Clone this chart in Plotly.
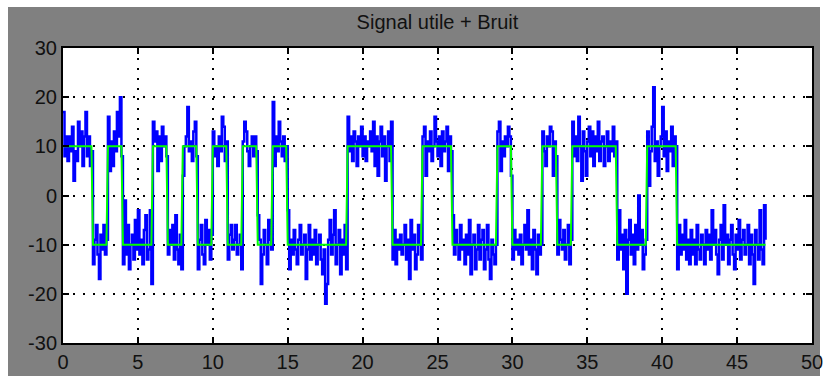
import numpy as np
import plotly.graph_objects as go

# Transmitted symbols, one per time unit (+1 / -1)
bits = [1, 1, -1, 1, -1, -1, 1, -1, 1, -1,
        1, -1, 1, -1, 1, -1, -1, -1, -1, 1,
        1, 1, -1, -1, 1, 1, -1, -1, -1, 1,
        -1, -1, 1, -1, 1, 1, 1, -1, -1, 1,
        1, -1, -1, -1, -1, -1, -1]
amplitude = 10
samples_per_bit = 10
sample_step = 0.1

# Received signal (useful signal + noise), 10 samples per symbol
signal_noisy = [
    17, 8, 12, 7, 12, 9, 14, 3, 9, 7,
    15, 10, 13, 6, 12, 17, 8, 12, 6, 9,
    -14, -9, -6, -12, -17, -8, -11, -6, -12, -9,
    16, 5, 11, 6, 13, 9, 17, 12, 20, 8,
    -14, -1, -12, -6, -15, -10, -8, -13, -5, -11,
    -3, -12, -9, -14, -7, -4, -13, -11, -3, -18,
    15, 11, 13, 5, 12, 7, 14, 10, 12, 8,
    -12, -7, -10, -6, -13, -4, -11, -14, -8, -15,
    4, 10, 12, 18, 9, 11, 7, 13, 15, 8,
    -15, -9, -6, -12, -14, -5, -10, -7, -13, -8,
    13, 8, 10, 6, 12, 9, 16, 14, 7, 11,
    -13, -8, -6, -11, -9, -6, -12, -10, -8, -15,
    11, 15, 13, 9, 6, 10, 12, 8, 12, 9,
    -4, -9, -18, -12, -7, -10, -14, -5, -9, -11,
    19, 6, 12, 9, 15, 11, 8, 12, 7, 10,
    -3, -15, -9, -12, -7, -11, -14, -9, -6, -12,
    -10, -8, -17, -11, -6, -13, -9, -12, -7, -14,
    -10, -8, -13, -16, -11, -22, -18, -9, -5, -12,
    -8, -3, -14, -10, -7, -16, -9, -12, -6, -15,
    16, 9, 12, 7, 13, 11, 6, 12, 10, 14,
    8, 12, 7, 11, 10, 13, 9, 15, 6, 12,
    4, 11, 14, 8, 12, 3, 10, 13, 7, 15,
    -13, -7, -14, -9, -11, -8, -12, -10, -6, -13,
    -9, -17, -5, -11, -8, -15, -12, -6, -10, -13,
    12, 14, 4, 11, 9, 13, 7, 10, 16, 11,
    8, 12, 6, 13, 9, 11, 14, 5, 12, 9,
    -4, -12, -7, -10, -13, -6, -11, -9, -14, -8,
    -12, -5, -16, -10, -8, -15, -11, -6, -13, -9,
    -7, -15, -11, -6, -13, -17, -9, -12, -14, -10,
    13, 15, 5, 11, 8, 12, 10, 14, 12, 4,
    -13, -7, -11, -9, -12, -8, -14, -10, -6, -11,
    -3, -12, -9, -15, -7, -11, -16, -8, -12, -10,
    13, 9, 6, 12, 10, 14, 13, 4, 11, 8,
    -12, -5, -9, -11, -7, -13, -10, -6, -14, -9,
    15, 8, 12, 7, 16, 10, 3, 13, 9, 4,
    11, 14, 8, 13, 6, 12, 9, 15, 7, 11,
    12, 6, 10, 13, 7, 11, 9, 14, 8, 11,
    -13, -3, -11, -8, -15, -7, -20, -9, -5, -12,
    -8, -14, -6, -11, 0, -10, -7, -15, -12, -9,
    13, 2, 9, 14, 22, 7, 11, 4, 10, 12,
    18, 8, 13, 5, 11, 9, 14, 6, 12, 10,
    -15, -6, -12, -8, -11, -5, -13, -9, -14, -7,
    -12, -9, -14, -6, -11, -13, -8, -10, -14, -7,
    -11, -8, -13, -3, -10, -7, -12, -16, -9, -6,
    -13, -2, -10, -8, -14, -9, -6, -12, -15, -8,
    -11, -5, -13, -9, -7, -12, -10, -6, -14, -8,
    -12, -18, -7, -10, -13, -3, -11, -14, -2, -9,
]

x_ticks = [0, 5, 10, 15, 20, 25, 30, 35, 40, 45, 50]
y_ticks = [-30, -20, -10, 0, 10, 20, 30]
title_text = "Signal utile + Bruit"

n = len(bits) * samples_per_bit
t = np.arange(n) * sample_step
clean = np.repeat(np.array(bits) * amplitude, samples_per_bit)

fig = go.Figure()
fig.add_trace(go.Scatter(x=t, y=signal_noisy, mode="lines",
                         line=dict(color="#0000FF", width=2.5, shape="hv"),
                         showlegend=False, hoverinfo="skip"))
fig.add_trace(go.Scatter(x=t, y=clean, mode="lines",
                         line=dict(color="#00FF00", width=2),
                         showlegend=False, hoverinfo="skip"))

font_family = "Liberation Sans, Arial, sans-serif"
axis_common = dict(
    showgrid=True, gridcolor="black", gridwidth=1.5, griddash="2px,8px",
    zeroline=False, showline=True, linecolor="black", linewidth=2,
    mirror="allticks", ticks="inside", ticklen=6, tickwidth=1.5,
    tickcolor="black", automargin=False,
    tickfont=dict(family=font_family, size=20, color="#111111"),
)
fig.update_xaxes(range=[0, 50], tickvals=x_ticks, ticktext=[str(v) for v in x_ticks],
                 **axis_common)
fig.update_yaxes(range=[-30, 30], tickvals=y_ticks, ticktext=[str(v) for v in y_ticks],
                 **axis_common)

# Thin white border around the grey figure frame
W, H = 827, 376
ml, mr, mt, mb = 63, 15, 48, 33
pw, ph = W - ml - mr, H - mt - mb


def px_to_paper_x(px):
    return (px - ml) / pw


def px_to_paper_y(py):
    return (H - mb - py) / ph


for x0, x1, y0, y1 in [(0, 8, 0, H), (820, W, 0, H), (0, W, 0, 7)]:
    fig.add_shape(type="rect", xref="paper", yref="paper",
                  x0=px_to_paper_x(x0), x1=px_to_paper_x(x1),
                  y0=px_to_paper_y(y1), y1=px_to_paper_y(y0),
                  fillcolor="white", line=dict(width=0), layer="below")

fig.update_layout(
    width=W, height=H,
    margin=dict(l=ml, r=mr, t=mt, b=mb),
    paper_bgcolor="#808080", plot_bgcolor="white",
    title=dict(text=title_text, x=0.5, xanchor="center", y=1 - 22 / H,
               yanchor="middle", xref="paper",
               font=dict(family=font_family, size=20, color="#111111")),
)

fig.write_html("out.html")
